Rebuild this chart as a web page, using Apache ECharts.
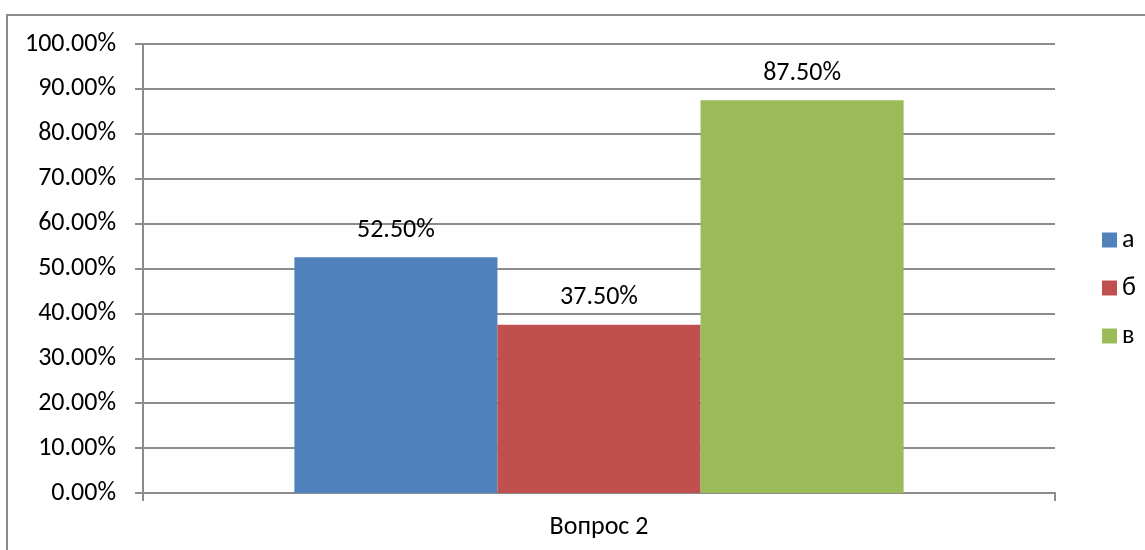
<!DOCTYPE html>
<html><head><meta charset="utf-8">
<script src="https://cdn.jsdelivr.net/npm/echarts@6/dist/echarts.min.js"></script>
<style>html,body{margin:0;padding:0;background:#fff}#c{width:1145px;height:550px}</style>
</head><body><div id="c"></div>
<script>
const categories = ['Вопрос 2'];
const seriesNames = ['а', 'б', 'в'];
const valuesA = [52.5];
const valuesB = [37.5];
const valuesC = [87.5];
const colors = ['#4F81BD', '#C0504D', '#9BBB59'];
const font = 'Carlito, "Open Sans", "Noto Sans", sans-serif';
const fs = 26;
const chart = echarts.init(document.getElementById('c'));
const data = [valuesA, valuesB, valuesC];
chart.setOption({
  animation: false,
  textStyle: {fontFamily: font},
  graphic: [{type: 'rect', shape: {x: 7, y: 15, width: 1200, height: 600}, style: {fill: 'none', stroke: '#8c8c8c', lineWidth: 2}, silent: true}],
  grid: {left: 143, right: 90, top: 44, bottom: 57},
  legend: {orient: 'vertical', left: 1097, top: 222, itemWidth: 15, itemHeight: 15, itemGap: 22, icon: 'rect',
    textStyle: {fontSize: fs, color: '#000', fontFamily: font}, data: seriesNames},
  xAxis: {type: 'category', data: categories,
    axisLine: {lineStyle: {color: '#8c8c8c', width: 2}},
    axisTick: {show: true, length: 8, lineStyle: {color: '#8c8c8c', width: 2}},
    axisLabel: {fontSize: fs, color: '#000', margin: 21, fontFamily: font}},
  yAxis: {type: 'value', min: 0, max: 100, interval: 10,
    axisLine: {show: true, lineStyle: {color: '#8c8c8c', width: 2}},
    axisTick: {show: true, length: 8, lineStyle: {color: '#8c8c8c', width: 2}},
    splitLine: {lineStyle: {color: '#8c8c8c', width: 2}},
    axisLabel: {fontSize: fs, color: '#000', margin: 27, fontFamily: font, formatter: v => v.toFixed(2) + '%'}},
  series: seriesNames.map((n, i) => ({
    name: n, type: 'bar', data: data[i], barGap: '0%', barCategoryGap: '33.2%',
    itemStyle: {color: colors[i]},
    label: {show: true, position: 'top', distance: 14, fontSize: fs, color: '#000', fontFamily: font, formatter: p => p.value.toFixed(2) + '%'}
  }))
});
</script></body></html>
